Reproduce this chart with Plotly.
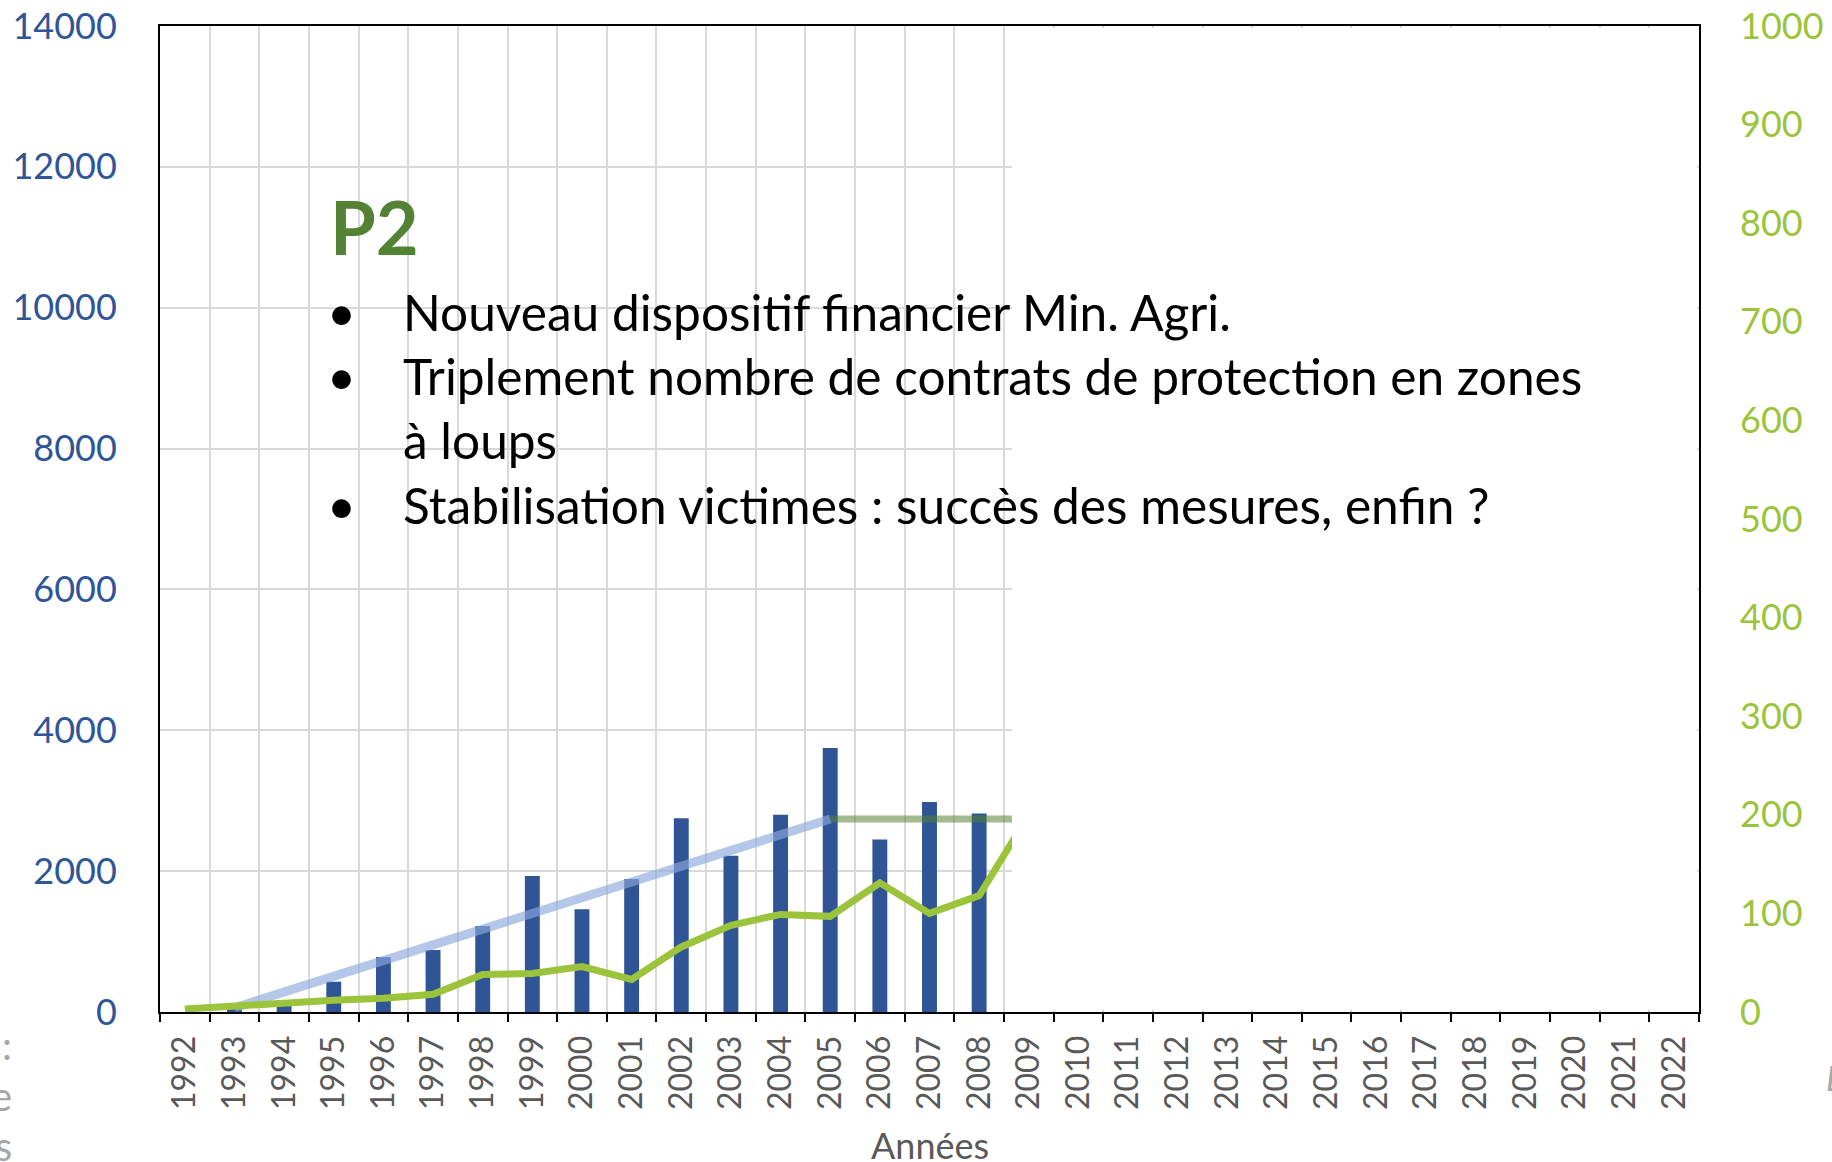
import plotly.graph_objects as go

# ---------------- data ----------------
years = [str(y) for y in range(1992, 2023)]

bar_years = [str(y) for y in range(1992, 2009)]
victims = [0, 40, 170, 430, 780, 880, 1220, 1930, 1460, 1890,
           2750, 2220, 2800, 3750, 2450, 2980, 2820]

line_years = [str(y) for y in range(1992, 2010)]
wolves = [3, 6, 10, 12, 14, 18, 38, 39, 46, 33,
          66, 88, 99, 97, 131, 100, 118, 200]

trend_years = ["1993", "2005"]
trend_values = [60, 2740]
plateau_years = ["2005", "2009"]
plateau_values = [2740, 2740]

left_ticks = [0, 2000, 4000, 6000, 8000, 10000, 12000, 14000]
right_ticks = [0, 100, 200, 300, 400, 500, 600, 700, 800, 900, 1000]

title_p = "P2"
bullets = [
    "Nouveau dispositif financier Min. Agri.",
    "Triplement nombre de contrats de protection en zones",
    "à loups",
    "Stabilisation victimes : succès des mesures, enfin ?",
]
bullet_marks = [True, True, False, True]
x_title = "Années"

# ---------------- layout geometry ----------------
W, H = 1832, 1162
PL, PR, PT, PB = 160, 1699, 26, 1012
PW, PH = PR - PL, PB - PT


def fx(px):
    return (px - PL) / PW


def fy(py):
    return (PB - py) / PH


FONT = "Lato, Calibri, Carlito, sans-serif"
BLUE = "#2F5597"
GREEN = "#9BC33B"
GRAY = "#595959"

fig = go.Figure()

fig.add_trace(go.Bar(x=bar_years, y=victims, marker=dict(color=BLUE, line=dict(width=0)),
                     yaxis="y", showlegend=False))
fig.add_trace(go.Scatter(x=trend_years, y=trend_values, mode="lines",
                         line=dict(color="rgba(142,169,219,0.65)", width=9),
                         yaxis="y", showlegend=False))
fig.add_trace(go.Scatter(x=plateau_years, y=plateau_values, mode="lines",
                         line=dict(color="rgba(84,130,53,0.55)", width=7),
                         yaxis="y", showlegend=False))
fig.add_trace(go.Scatter(x=line_years, y=wolves, mode="lines",
                         line=dict(color=GREEN, width=7),
                         yaxis="y2", showlegend=False))

annotations = []
annotations.append(dict(text="<b>%s</b>" % title_p, x=fx(328), y=fy(226), xref="paper", yref="paper",
                        xanchor="left", yanchor="middle", showarrow=False,
                        font=dict(family=FONT, size=74, color="#548235")))
line_y = [312, 376, 440, 505]
for txt, mark, yy in zip(bullets, bullet_marks, line_y):
    if mark:
        annotations.append(dict(text="•", x=fx(341), y=fy(yy), xref="paper", yref="paper",
                                xanchor="center", yanchor="middle", showarrow=False,
                                font=dict(family=FONT, size=50, color="black")))
    annotations.append(dict(text=txt, x=fx(401), y=fy(yy), xref="paper", yref="paper",
                            xanchor="left", yanchor="middle", showarrow=False,
                            font=dict(family=FONT, size=49.6, color="black")))
annotations.append(dict(text=x_title, x=fx((PL + PR) / 2), y=fy(1145), xref="paper", yref="paper",
                        xanchor="center", yanchor="middle", showarrow=False,
                        font=dict(family=FONT, size=36, color=GRAY)))
# cut-off slide text fragments at the page edges
for frag, yy in [(":", 1045), ("e", 1096), ("s", 1146)]:
    annotations.append(dict(text=frag, x=fx(14), y=fy(yy), xref="paper", yref="paper",
                            xanchor="right", yanchor="middle", showarrow=False,
                            font=dict(family=FONT, size=40, color="#A6A6A6")))
annotations.append(dict(text="<i>L</i>", x=fx(1824), y=fy(1077), xref="paper", yref="paper",
                        xanchor="left", yanchor="middle", showarrow=False,
                        font=dict(family=FONT, size=34, color="#A6A6A6")))

shapes = [dict(type="rect", xref="paper", yref="paper",
               x0=fx(1012), x1=fx(1697), y0=fy(1010), y1=fy(28),
               fillcolor="white", line=dict(width=0), layer="above")]

fig.update_layout(
    width=W, height=H,
    margin=dict(l=PL, r=W - PR, t=PT, b=H - PB, pad=0, autoexpand=False),
    paper_bgcolor="white", plot_bgcolor="white",
    bargap=0.7,
    font=dict(family=FONT),
    annotations=annotations,
    shapes=shapes,
    xaxis=dict(type="category", categoryorder="array", categoryarray=years,
               range=[-0.5, len(years) - 0.5], automargin=False,
               tickson="boundaries", ticks="outside", ticklen=8, tickwidth=2, tickcolor="black",
               showline=True, linecolor="black", linewidth=2, mirror=True,
               showgrid=True, gridcolor="#D9D9D9", gridwidth=1.5,
               tickangle=-90, tickfont=dict(family=FONT, size=32, color=GRAY),
               ticklabelstandoff=9),
    yaxis=dict(range=[0, 14000], tickvals=left_ticks, ticktext=[str(v) for v in left_ticks],
               automargin=False,
               showline=True, linecolor="black", linewidth=2, mirror=True,
               showgrid=True, gridcolor="#D9D9D9", gridwidth=1.5, zeroline=False,
               ticks="", tickfont=dict(family=FONT, size=36, color=BLUE),
               ticklabelstandoff=34),
    yaxis2=dict(range=[0, 1000], tickvals=right_ticks, ticktext=[str(v) for v in right_ticks],
                automargin=False,
                overlaying="y", side="right", showgrid=False, zeroline=False,
                showline=False, ticks="",
                tickfont=dict(family=FONT, size=36, color=GREEN),
                ticklabelstandoff=40),
)

fig.write_html("out.html", config={"displayModeBar": False},
               post_script="document.body.style.margin='0';document.body.style.overflow='hidden';")
